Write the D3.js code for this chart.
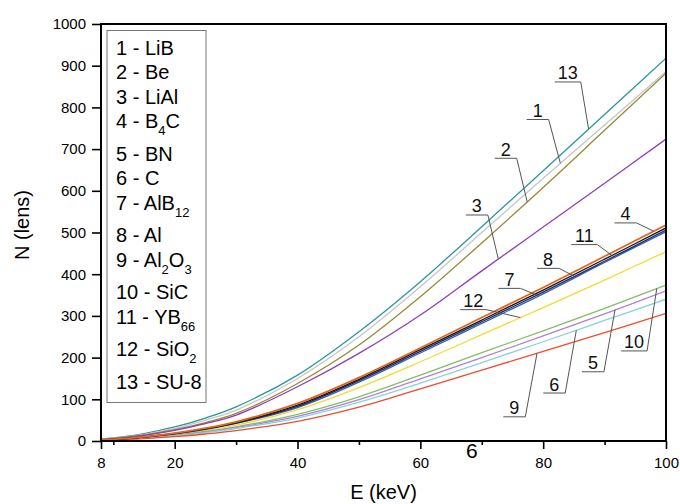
<!DOCTYPE html>
<html>
<head>
<meta charset="utf-8">
<script src="https://cdn.jsdelivr.net/npm/d3@7"></script>
<style>
    body { margin: 0; background: #fff; }
</style>
</head>
<body>
<div id="chart"></div>
<script>
const energy = [8, 10, 15, 20, 25, 30, 40, 50, 60, 70, 80, 90, 100];

// number of lenses per material
const nLiB   = [4.0, 6.6, 16, 30, 50, 74, 150, 250, 370, 500, 630, 758, 886];
const nBe    = [3.6, 5.9, 14.4, 27, 44, 66, 138, 230, 346, 475, 608, 745, 882];
const nLiAl  = [3.4, 5.5, 13.5, 25.4, 41.5, 62, 130, 210, 302, 408, 513, 618, 724];
const nB4C   = [2.5, 4.1, 10.0, 18.9, 30.8, 46, 90, 152, 223, 296, 368, 443, 518];
const nBN    = [1.8, 2.9, 7.0, 13.1, 21.4, 32, 59, 99, 149, 200, 252, 305, 360];
const nC     = [1.6, 2.7, 6.5, 12.3, 20.1, 30, 55, 93, 139, 188, 238, 289, 340];
const nAlB12 = [2.3, 3.7, 9.2, 17.2, 28.1, 42, 80, 141, 211, 282, 353, 428, 502];
const nAl    = [2.4, 3.8, 9.4, 17.6, 28.8, 43, 83, 145, 215, 286, 357, 431, 506];
const nAl2O3 = [1.4, 2.2, 5.5, 10.3, 16.8, 25, 47, 81, 125, 170, 215, 260, 306];
const nSiC   = [1.9, 3.0, 7.4, 13.9, 22.8, 34, 64, 106, 158, 212, 264, 318, 374];
const nYB66  = [2.4, 3.9, 9.6, 18.0, 29.5, 44, 86, 148, 219, 290, 362, 436, 511];
const nSiO2  = [2.1, 3.4, 8.3, 15.6, 25.5, 38, 75, 128, 190, 255, 320, 386, 454];
const nSU8   = [4.5, 7.3, 17.9, 33.6, 55, 82, 158, 262, 382, 514, 648, 783, 918];

const materialIds = [1, 2, 3, 4, 5, 6, 7, 8, 9, 10, 11, 12, 13];
const materialNames = ["LiB", "Be", "LiAl", "B_4C", "BN", "C", "AlB_12", "Al", "Al_2O_3", "SiC", "YB_66", "SiO_2", "SU-8"];
const seriesValues = [nLiB, nBe, nLiAl, nB4C, nBN, nC, nAlB12, nAl, nAl2O3, nSiC, nYB66, nSiO2, nSU8];
const seriesColors = ["#c6c6c6", "#9a8838", "#8e3fb8", "#e2661c", "#b27fd4", "#86d2e2", "#3462c0",
                      "#1c2a6a", "#f04b2a", "#80c062", "#151515", "#f2dc30", "#2a9898"];
const drawOrder = [13, 1, 2, 3, 12, 10, 5, 6, 9, 7, 8, 11, 4];

const yTicks = d3.range(0, 1001, 100);
const xMajorTicks = [8, 20, 40, 60, 80, 100];
const xMinorTicks = [10, 30, 50, 70, 90];

// numbered callouts: leader meets the curve at anchorE, label sits at (labelE, labelN)
const calloutIds     = [13, 1, 2, 3, 4, 11, 8, 7, 12, 10, 5, 6, 9];
const calloutAnchorE = [87.4, 82.8, 77.4, 72.7, 98.0, 91.2, 85.1, 79.3, 76.3, 98.5, 91.7, 85.4, 79.0];
const calloutLabelE  = [84.0, 79.1, 73.9, 69.2, 93.4, 86.7, 80.8, 74.5, 68.6, 94.8, 88.1, 81.8, 75.3];
const calloutLabelN  = [861, 771, 678, 542, 523, 471, 414, 366, 315, 216, 166, 115, 58];

const FONT = "Arial, 'Liberation Sans', sans-serif";

class LensChart {
    constructor(id) {
        this.id = id;
        this.width = 680;
        this.height = 504;
        this.margin = { top: 24, right: 14, bottom: 63, left: 101 };
        this.innerW = this.width - this.margin.left - this.margin.right;
        this.innerH = this.height - this.margin.top - this.margin.bottom;
    }

    initialize() {
        this.svg = d3.select(this.id).append("svg")
            .attr("width", this.width)
            .attr("height", this.height)
            .style("font-family", FONT);
        this.g = this.svg.append("g")
            .attr("transform", `translate(${this.margin.left},${this.margin.top})`);
        this.x = d3.scaleLinear().domain([8, 100]).range([0, this.innerW]);
        this.y = d3.scaleLinear().domain([0, 1000]).range([this.innerH, 0]);
    }

    valueAt(values, e) {
        let i = d3.bisectLeft(energy, e);
        i = Math.max(1, Math.min(energy.length - 1, i));
        const t = (e - energy[i - 1]) / (energy[i] - energy[i - 1]);
        return values[i - 1] + t * (values[i] - values[i - 1]);
    }

    drawAxes() {
        const yAxis = this.g.append("g")
            .call(d3.axisLeft(this.y).tickValues(yTicks).tickSize(9).tickPadding(6).tickFormat(d3.format("d")));
        const xAxis = this.g.append("g")
            .attr("transform", `translate(0,${this.innerH})`)
            .call(d3.axisBottom(this.x).tickValues(xMajorTicks).tickSize(8).tickPadding(8).tickFormat(d3.format("d")));
        const xMinor = this.g.append("g")
            .attr("transform", `translate(0,${this.innerH})`)
            .call(d3.axisBottom(this.x).tickValues(xMinorTicks).tickSize(4).tickFormat(""));

        [yAxis, xAxis, xMinor].forEach(a => {
            a.select(".domain").remove();
            a.selectAll("line").attr("stroke", "#000").attr("stroke-width", 1.6);
            a.selectAll("text")
                .style("font-family", FONT)
                .style("font-size", "15px")
                .attr("fill", "#000");
        });

        this.g.append("rect")
            .attr("width", this.innerW)
            .attr("height", this.innerH)
            .attr("fill", "none")
            .attr("stroke", "#000")
            .attr("stroke-width", 2);

        this.svg.append("text")
            .attr("x", this.margin.left + this.innerW / 2)
            .attr("y", 499)
            .attr("text-anchor", "middle")
            .style("font-size", "20px")
            .text("E (keV)");

        this.svg.append("text")
            .attr("transform", "translate(29,225) rotate(-90)")
            .attr("text-anchor", "middle")
            .style("font-size", "20px")
            .text("N (lens)");

        // stray label sitting below the axis in the original figure
        this.svg.append("text")
            .attr("x", this.margin.left + this.x(68.4))
            .attr("y", 458)
            .attr("text-anchor", "middle")
            .style("font-size", "21px")
            .text("6");
    }

    drawCurves() {
        const line = d3.line()
            .x((d, i) => this.x(energy[i]))
            .y(d => this.y(d))
            .curve(d3.curveCatmullRom.alpha(0.5));

        const clip = this.svg.append("clipPath").attr("id", "plot-clip");
        clip.append("rect").attr("width", this.innerW).attr("height", this.innerH);

        this.g.append("g")
            .attr("clip-path", "url(#plot-clip)")
            .selectAll("path")
            .data(drawOrder)
            .enter().append("path")
            .attr("d", id => line(seriesValues[id - 1]))
            .attr("fill", "none")
            .attr("stroke", id => seriesColors[id - 1])
            .attr("stroke-width", id => id === 4 ? 1.8 : 1.3);
    }

    drawCallouts() {
        const group = this.g.append("g");
        calloutIds.forEach((id, k) => {
            const lx = this.x(calloutLabelE[k]);
            const ly = this.y(calloutLabelN[k]);
            const half = id > 9 ? 13 : 11;
            const ax = this.x(calloutAnchorE[k]);
            const ay = this.y(this.valueAt(seriesValues[id - 1], calloutAnchorE[k]));

            group.append("polyline")
                .attr("points", [[lx - half, ly], [lx + half, ly], [ax, ay]])
                .attr("fill", "none")
                .attr("stroke", "#555")
                .attr("stroke-width", 1);

            group.append("text")
                .attr("x", lx)
                .attr("y", ly - 2.5)
                .attr("text-anchor", "middle")
                .style("font-size", "18px")
                .attr("fill", "#111")
                .text(id);
        });
    }

    drawLegend() {
        const legend = this.svg.append("g").attr("class", "legend");
        legend.append("rect")
            .attr("x", 107)
            .attr("y", 30.5)
            .attr("width", 99)
            .attr("height", 372)
            .attr("fill", "#fff")
            .attr("stroke", "#777")
            .attr("stroke-width", 1);

        let cy = 47.7;
        materialIds.forEach((id, i) => {
            const parts = materialNames[i].split(/_(\d+)/);
            const text = legend.append("text")
                .attr("x", 116)
                .attr("y", cy + 7)
                .style("font-size", "20px")
                .attr("fill", "#000");
            text.append("tspan").text(`${id} - ${parts[0]}`);
            for (let p = 1; p < parts.length; p++) {
                if (p % 2 === 1) {
                    text.append("tspan").attr("dy", 7).style("font-size", "13px").text(parts[p]);
                } else if (parts[p]) {
                    text.append("tspan").attr("dy", -7).text(parts[p]);
                }
            }
            cy += parts.length > 1 ? 32.5 : 24.5;
        });
    }

    render() {
        this.initialize();
        this.drawCurves();
        this.drawAxes();
        this.drawCallouts();
        this.drawLegend();
    }
}

new LensChart("#chart").render();
</script>
</body>
</html>
